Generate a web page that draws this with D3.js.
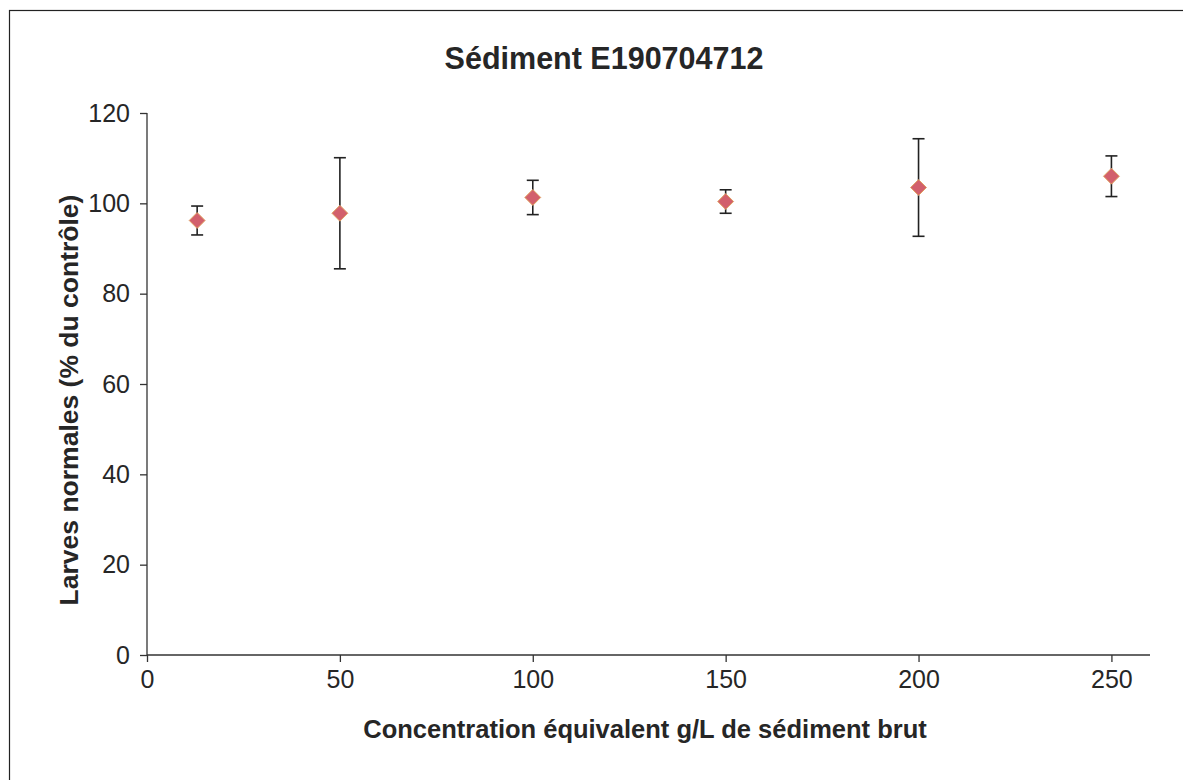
<!DOCTYPE html>
<html><head><meta charset="utf-8">
<script src="https://cdn.jsdelivr.net/npm/d3@7"></script>
<style>body{margin:0;background:#fff;}svg{display:block;}text{font-family:"Liberation Sans",Arial,sans-serif;fill:#262626;}</style>
</head><body><svg id="c" width="1183" height="780"></svg>
<script>
const concentrations = [13, 50, 100, 150, 200, 250];
const meanValues = [96.2, 97.8, 101.3, 100.4, 103.5, 106.0];
const errorValues = [3.2, 12.3, 3.8, 2.6, 10.8, 4.5];
const xTicks = [0, 50, 100, 150, 200, 250];
const yTicks = [0, 20, 40, 60, 80, 100, 120];
const title = "Sédiment E190704712";
const xLabel = "Concentration équivalent g/L de sédiment brut";
const yLabel = "Larves normales (% du contrôle)";

const svg = d3.select("#c");
svg.append("rect").attr("x",9.5).attr("y",10.5).attr("width",1200).attr("height",800)
  .attr("fill","none").attr("stroke","#222").attr("stroke-width",1.2);

const m = {left:147, top:113, right:1150, bottom:655};
const x = d3.scaleLinear().domain([0,260]).range([m.left,m.right]);
const y = d3.scaleLinear().domain([0,120]).range([m.bottom,m.top]);

svg.append("text").attr("x",604).attr("y",69).attr("text-anchor","middle")
  .attr("font-size",30.5).attr("font-weight","bold").text(title);

const ya = svg.append("g").attr("transform",`translate(${m.left},0)`)
  .call(d3.axisLeft(y).tickValues(yTicks).tickSize(7).tickPadding(10));
ya.selectAll("text").attr("font-size",25).style("font-family","Liberation Sans, Arial").attr("fill","#262626");
ya.selectAll("line,path").attr("stroke","#333").attr("stroke-width",1.3);

const xa = svg.append("g").attr("transform",`translate(0,${m.bottom})`)
  .call(d3.axisBottom(x).tickValues(xTicks).tickSize(7).tickPadding(8));
xa.selectAll("text").attr("font-size",25).style("font-family","Liberation Sans, Arial").attr("fill","#262626");
xa.selectAll("line,path").attr("stroke","#333").attr("stroke-width",1.3);
xa.select(".domain").attr("d",`M${m.left},0H${m.right}`);
ya.select(".domain").attr("d",`M0,${m.top}V${m.bottom}`);

svg.append("text").attr("x",645).attr("y",738).attr("text-anchor","middle")
  .attr("font-size",25.5).attr("font-weight","bold").text(xLabel);
svg.append("text").attr("transform",`translate(78,400) rotate(-90)`).attr("text-anchor","middle")
  .attr("font-size",26.5).attr("font-weight","bold").text(yLabel);

const data = concentrations.map((c,i)=>({c, v:meanValues[i], e:errorValues[i]}));
const g = svg.append("g");
data.forEach(d=>{
  const cx = x(d.c);
  g.append("line").attr("x1",cx).attr("x2",cx).attr("y1",y(d.v+d.e)).attr("y2",y(d.v-d.e))
    .attr("stroke","#222").attr("stroke-width",1.6);
  [d.v+d.e, d.v-d.e].forEach(val=>{
    g.append("line").attr("x1",cx-6).attr("x2",cx+6).attr("y1",y(val)).attr("y2",y(val))
      .attr("stroke","#222").attr("stroke-width",1.6);
  });
});
g.selectAll("path.pt").data(data).enter().append("path").attr("class","pt")
  .attr("d",d3.symbol().type(d3.symbolDiamond2).size(160))
  .attr("transform",d=>`translate(${x(d.c)},${y(d.v)})`)
  .attr("fill","#d2606c").attr("stroke","#e0a060").attr("stroke-width",1);
</script></body></html>
